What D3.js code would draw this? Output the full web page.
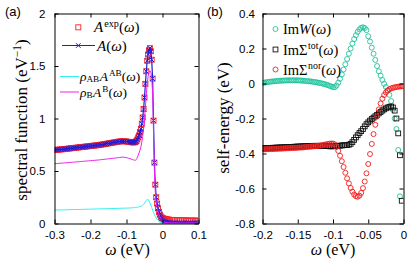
<!DOCTYPE html>
<html>
<head>
<meta charset="utf-8">
<script src="https://cdn.jsdelivr.net/npm/d3@7"></script>
<style>
  body { margin: 0; background: #fff; }
  svg { display: block; }
  .tick text { font-family: "Liberation Sans", Arial, sans-serif; font-size: 11.5px; fill: #000; }
  .tick line, .domain { stroke: #000; stroke-width: 1; }
  .serif { font-family: "Liberation Serif", "DejaVu Serif", serif; fill: #000; }
</style>
</head>
<body>
<script>
// panel (a): spectral function, omega in eV
const omegaA = [
  -0.3, -0.295, -0.29, -0.285, -0.28, -0.275, -0.27, -0.265, -0.26, -0.255,
  -0.25, -0.245, -0.24, -0.235, -0.23, -0.225, -0.22, -0.215, -0.21, -0.205,
  -0.2, -0.195, -0.19, -0.185, -0.18, -0.175, -0.17, -0.165, -0.16, -0.155,
  -0.15, -0.145, -0.14, -0.135, -0.13, -0.125, -0.12, -0.115, -0.11, -0.105,
  -0.1, -0.095, -0.09,
  -0.0875, -0.085, -0.0825, -0.08, -0.0775, -0.075, -0.0725, -0.07,
  -0.0675, -0.065, -0.0625, -0.06, -0.0575, -0.055, -0.0525, -0.05,
  -0.0475, -0.045, -0.0425, -0.04, -0.0375, -0.035, -0.0325, -0.03,
  -0.0275, -0.025, -0.0225, -0.02, -0.0175, -0.015, -0.0125, -0.01,
  -0.0075, -0.005, -0.0025, 0, 0.0025, 0.005, 0.0075, 0.01,
  0.0125, 0.015, 0.0175, 0.02,
  0.025, 0.03, 0.035, 0.04, 0.045, 0.05, 0.055, 0.06,
  0.065, 0.07, 0.075, 0.08, 0.085, 0.09, 0.095, 0.1
];
const aExp = [
  0.700, 0.702, 0.703, 0.705, 0.706, 0.708, 0.710, 0.712, 0.714, 0.716,
  0.718, 0.720, 0.722, 0.724, 0.726, 0.728, 0.730, 0.732, 0.734, 0.736,
  0.738, 0.740, 0.742, 0.744, 0.746, 0.749, 0.751, 0.754, 0.757, 0.760,
  0.763, 0.766, 0.769, 0.772, 0.775, 0.778, 0.781, 0.783, 0.784, 0.783,
  0.781, 0.778, 0.776,
  0.775, 0.774, 0.773, 0.773, 0.774, 0.777, 0.785, 0.80,
  0.82, 0.84, 0.87, 0.90, 0.95, 1.01, 1.09, 1.20,
  1.33, 1.45, 1.55, 1.61, 1.65, 1.67, 1.64, 1.56,
  1.38, 0.98, 0.58, 0.37, 0.25, 0.19, 0.145, 0.11,
  0.085, 0.068, 0.058, 0.052, 0.048, 0.045, 0.042, 0.040,
  0.038, 0.037, 0.036, 0.035,
  0.034, 0.033, 0.032, 0.032, 0.031, 0.031, 0.030, 0.030,
  0.029, 0.029, 0.028, 0.028, 0.028, 0.027, 0.027, 0.027
];
const aModel = [
  0.700, 0.702, 0.703, 0.705, 0.706, 0.708, 0.710, 0.712, 0.714, 0.716,
  0.718, 0.720, 0.722, 0.724, 0.726, 0.728, 0.730, 0.732, 0.734, 0.736,
  0.738, 0.740, 0.742, 0.744, 0.746, 0.749, 0.751, 0.754, 0.757, 0.760,
  0.763, 0.766, 0.769, 0.772, 0.775, 0.778, 0.781, 0.783, 0.784, 0.783,
  0.781, 0.778, 0.776,
  0.775, 0.774, 0.773, 0.773, 0.774, 0.777, 0.785, 0.80,
  0.82, 0.84, 0.87, 0.90, 0.95, 1.01, 1.09, 1.20,
  1.33, 1.45, 1.55, 1.61, 1.65, 1.67, 1.64, 1.56,
  1.38, 0.98, 0.58, 0.37, 0.25, 0.19, 0.145, 0.11,
  0.085, 0.062, 0.045, 0.032, 0.022, 0.016, 0.012, 0.010,
  0.009, 0.008, 0.007, 0.007,
  0.006, 0.006, 0.006, 0.006, 0.005, 0.005, 0.005, 0.005,
  0.005, 0.005, 0.005, 0.005, 0.005, 0.005, 0.005, 0.005
];
const rhoAB = [
  0.128, 0.128, 0.129, 0.129, 0.130, 0.130, 0.130, 0.131, 0.131, 0.132,
  0.132, 0.133, 0.133, 0.133, 0.134, 0.134, 0.135, 0.135, 0.136, 0.136,
  0.137, 0.137, 0.138, 0.138, 0.139, 0.139, 0.140, 0.140, 0.141, 0.141,
  0.142, 0.142, 0.143, 0.143, 0.144, 0.144, 0.145, 0.145, 0.146, 0.146,
  0.147, 0.147, 0.148,
  0.149, 0.149, 0.150, 0.151, 0.152, 0.153, 0.154, 0.155,
  0.157, 0.159, 0.161, 0.164, 0.168, 0.174, 0.182, 0.193,
  0.207, 0.221, 0.230, 0.228, 0.215, 0.196, 0.175, 0.152,
  0.128, 0.105, 0.084, 0.066, 0.051, 0.039, 0.029, 0.021,
  0.015, 0.010, 0.006, 0.004, 0.002, 0.001, 0.001, 0,
  0, 0, 0, 0,
  0, 0, 0, 0, 0, 0, 0, 0,
  0, 0, 0, 0, 0, 0, 0, 0
];
const rhoB = [
  0.570, 0.571, 0.572, 0.574, 0.575, 0.576, 0.578, 0.579, 0.580, 0.582,
  0.583, 0.585, 0.586, 0.588, 0.589, 0.591, 0.592, 0.594, 0.595, 0.597,
  0.598, 0.600, 0.601, 0.603, 0.604, 0.606, 0.608, 0.610, 0.612, 0.614,
  0.616, 0.618, 0.620, 0.622, 0.624, 0.626, 0.629, 0.631, 0.632, 0.630,
  0.627, 0.622, 0.617,
  0.614, 0.611, 0.608, 0.605, 0.603, 0.603, 0.610, 0.628,
  0.650, 0.672, 0.700, 0.730, 0.775, 0.830, 0.900, 0.995,
  1.11, 1.23, 1.33, 1.40, 1.44, 1.455, 1.44, 1.39,
  1.24, 0.87, 0.50, 0.30, 0.20, 0.15, 0.115, 0.088,
  0.068, 0.052, 0.040, 0.030, 0.022, 0.016, 0.012, 0.010,
  0.009, 0.008, 0.007, 0.007,
  0.006, 0.006, 0.006, 0.006, 0.005, 0.005, 0.005, 0.005,
  0.005, 0.005, 0.005, 0.005, 0.005, 0.005, 0.005, 0.005
];

// panel (b): self-energy, omega in eV
const omegaB = [
  -0.2, -0.1975, -0.195, -0.1925, -0.19, -0.1875, -0.185, -0.1825, -0.18, -0.1775,
  -0.175, -0.1725, -0.17, -0.1675, -0.165, -0.1625, -0.16, -0.1575, -0.155, -0.1525,
  -0.15, -0.1475, -0.145, -0.1425, -0.14, -0.1375, -0.135, -0.1325, -0.13, -0.1275,
  -0.125, -0.1225, -0.12, -0.1175, -0.115, -0.1125, -0.11, -0.1075, -0.105, -0.1025,
  -0.1, -0.0975, -0.095, -0.0925, -0.09, -0.0875, -0.085, -0.0825, -0.08, -0.0775,
  -0.075, -0.0725, -0.07, -0.0675, -0.065, -0.0625, -0.06, -0.0575, -0.055, -0.0525,
  -0.05, -0.0475, -0.045, -0.0425, -0.04, -0.0375, -0.035, -0.0325, -0.03, -0.0275,
  -0.025, -0.0225, -0.02, -0.0175, -0.015, -0.0125, -0.01, -0.0075, -0.005, -0.0025,
  0
];
const imW = [
  0.003, 0.005, 0.007, 0.008, 0.010, 0.011, 0.012, 0.013, 0.014, 0.015,
  0.016, 0.016, 0.017, 0.017, 0.018, 0.018, 0.018, 0.018, 0.018, 0.018,
  0.018, 0.017, 0.017, 0.016, 0.015, 0.014, 0.013, 0.012, 0.011, 0.009,
  0.008, 0.006, 0.004, 0.002, 0.000, -0.003, -0.006, -0.009, -0.013, -0.017,
  -0.020, -0.021, -0.012, 0.005, 0.027, 0.052, 0.080, 0.110, 0.140, 0.170,
  0.200, 0.228, 0.254, 0.276, 0.295, 0.309, 0.318, 0.321, 0.317, 0.305,
  0.270, 0.240, 0.205, 0.170, 0.135, 0.100, 0.070, 0.045, 0.020, -0.002,
  -0.020, -0.040, -0.065, -0.100, -0.150, -0.200, -0.260, -0.380, -0.645, null,
  null
];
const imSigmaTot = [
  -0.370, -0.370, -0.369, -0.369, -0.368, -0.368, -0.367, -0.367, -0.366, -0.366,
  -0.365, -0.365, -0.364, -0.364, -0.363, -0.363, -0.362, -0.362, -0.361, -0.361,
  -0.360, -0.360, -0.359, -0.359, -0.358, -0.358, -0.357, -0.357, -0.357, -0.356,
  -0.356, -0.356, -0.356, -0.356, -0.357, -0.357, -0.358, -0.358, -0.359, -0.359,
  -0.359, -0.358, -0.357, -0.356, -0.355, -0.354, -0.353, -0.352, -0.352, -0.350,
  -0.345, -0.335, -0.322, -0.308, -0.295, -0.283, -0.272, -0.260, -0.245, -0.232,
  -0.222, -0.212, -0.203, -0.195, -0.187, -0.179, -0.171, -0.163, -0.155, -0.148,
  -0.142, -0.137, -0.133, -0.131, -0.137, -0.155, -0.200, -0.285, -0.410, -0.670,
  null
];
const imSigmaNor = [
  -0.376, -0.376, -0.376, -0.375, -0.375, -0.375, -0.374, -0.374, -0.373, -0.373,
  -0.372, -0.372, -0.371, -0.371, -0.370, -0.370, -0.369, -0.369, -0.368, -0.368,
  -0.367, -0.366, -0.366, -0.365, -0.364, -0.363, -0.362, -0.361, -0.360, -0.359,
  -0.358, -0.357, -0.355, -0.354, -0.352, -0.350, -0.348, -0.346, -0.344, -0.343,
  -0.343, -0.348, -0.362, -0.385, -0.413, -0.444, -0.477, -0.510, -0.542, -0.571,
  -0.597, -0.618, -0.634, -0.644, -0.647, -0.641, -0.625, -0.598, -0.560, -0.513,
  -0.460, -0.403, -0.345, -0.289, -0.236, -0.189, -0.148, -0.114, -0.087, -0.066,
  -0.051, -0.040, -0.033, -0.028, -0.024, -0.022, -0.020, -0.018, -0.017, -0.016,
  -0.015
];

const ticksAx = [-0.3, -0.2, -0.1, 0, 0.1];
const ticksAy = [0, 0.5, 1, 1.5, 2];
const ticksBx = [-0.2, -0.15, -0.1, -0.05, 0];
const ticksBy = [-0.8, -0.6, -0.4, -0.2, 0, 0.2, 0.4];

const width = 415, height = 263;

const svg = d3.select("body").append("svg")
    .attr("width", width)
    .attr("height", height);

// rich text: parts are {t, it, sup, sub, dx}
function richText(g, x, y, size, parts) {
  const text = g.append("text")
      .attr("class", "serif")
      .attr("x", x)
      .attr("y", y)
      .style("font-size", size + "px");
  let shift = 0;
  parts.forEach(p => {
    const target = p.sup ? -0.36 * size : p.sub ? 0.1 * size : 0;
    text.append("tspan")
        .attr("dy", target - shift)
        .attr("dx", p.dx || 0)
        .style("font-style", p.it ? "italic" : "normal")
        .style("font-size", (p.sup || p.sub ? 0.68 * size : size) + "px")
        .text(p.t);
    shift = target;
  });
  return text;
}

function frame(g, x, y, tx, ty, padY) {
  const [x0, x1] = x.range(), [y0, y1] = y.range();
  g.append("g")
      .attr("transform", `translate(0,${y0})`)
      .call(d3.axisBottom(x).tickValues(tx).tickSize(-4).tickSizeOuter(0).tickPadding(7.5).tickFormat(String));
  g.append("g")
      .attr("transform", `translate(0,${y1})`)
      .call(d3.axisTop(x).tickValues(tx).tickSize(-4).tickSizeOuter(0).tickFormat(""));
  g.append("g")
      .attr("transform", `translate(${x0},0)`)
      .call(d3.axisLeft(y).tickValues(ty).tickSize(-4).tickSizeOuter(0).tickPadding(padY).tickFormat(String));
  g.append("g")
      .attr("transform", `translate(${x1},0)`)
      .call(d3.axisRight(y).tickValues(ty).tickSize(-4).tickSizeOuter(0).tickFormat(""));
}

// ---------- panel (a)
const xa = d3.scaleLinear().domain([-0.3, 0.1]).range([54.5, 198.5]);
const ya = d3.scaleLinear().domain([0, 2]).range([223.5, 13.5]);
const ga = svg.append("g");

svg.append("clipPath").attr("id", "clipA")
  .append("rect").attr("x", 54.5).attr("y", 13.5).attr("width", 144).attr("height", 210);
const pa = ga.append("g").attr("clip-path", "url(#clipA)");

const ptsA = omegaA.map((w, i) => ({w, exp: aExp[i], mod: aModel[i], ab: rhoAB[i], b: rhoB[i]}));

pa.append("g").selectAll("rect")
  .data(ptsA)
  .join("rect")
    .attr("x", d => xa(d.w) - 2.5)
    .attr("y", d => ya(d.exp) - 2.5)
    .attr("width", 5)
    .attr("height", 5)
    .attr("fill", "none")
    .attr("stroke", "#f22")
    .attr("stroke-width", 0.9);

const lineA = key => d3.line().x(d => xa(d.w)).y(d => ya(d[key]));

pa.append("path")
    .datum(ptsA)
    .attr("d", lineA("mod"))
    .attr("fill", "none")
    .attr("stroke", "#1a1ae0")
    .attr("stroke-width", 1.2);

pa.append("g").selectAll("path")
  .data(ptsA)
  .join("path")
    .attr("d", d => {
      const cx = xa(d.w), cy = ya(d.mod);
      return `M${cx - 2.3},${cy - 2.3}L${cx + 2.3},${cy + 2.3}M${cx - 2.3},${cy + 2.3}L${cx + 2.3},${cy - 2.3}`;
    })
    .attr("stroke", "#1a1ae0")
    .attr("stroke-width", 1);

pa.append("path")
    .datum(ptsA)
    .attr("d", lineA("ab"))
    .attr("fill", "none")
    .attr("stroke", "#2ef0f0")
    .attr("stroke-width", 1);

pa.append("path")
    .datum(ptsA)
    .attr("d", lineA("b"))
    .attr("fill", "none")
    .attr("stroke", "#f020f0")
    .attr("stroke-width", 1);

frame(ga, xa, ya, ticksAx, ticksAy, 9);

// legend (a)
ga.append("rect").attr("x", 75.8).attr("y", 24.8).attr("width", 5).attr("height", 5)
    .attr("fill", "none").attr("stroke", "#f22").attr("stroke-width", 0.9);
richText(ga, 94, 32, 15, [{t: "A", it: true}, {t: "exp", sup: true, dx: 1}, {t: "("}, {t: "ω", it: true}, {t: ")"}]);

ga.append("line").attr("x1", 62).attr("x2", 95).attr("y1", 45.5).attr("y2", 45.5)
    .attr("stroke", "#1a1ae0").attr("stroke-width", 1.2);
ga.append("path").attr("d", "M76,43.2L80.6,47.8M76,47.8L80.6,43.2").attr("stroke", "#1a1ae0");
richText(ga, 97, 50.5, 15, [{t: "A", it: true}, {t: "("}, {t: "ω", it: true}, {t: ")"}]);

ga.append("line").attr("x1", 60).attr("x2", 79).attr("y1", 76.5).attr("y2", 76.5)
    .attr("stroke", "#2ef0f0");
richText(ga, 80, 81, 13.5, [{t: "ρ", it: true}, {t: "AB", sub: true}, {t: "A", it: true, dx: 0.5}, {t: "AB", sup: true, dx: 1}, {t: "("}, {t: "ω", it: true}, {t: ")"}]);

ga.append("line").attr("x1", 60).attr("x2", 79).attr("y1", 92).attr("y2", 92)
    .attr("stroke", "#f020f0");
richText(ga, 80, 97, 13.5, [{t: "ρ", it: true}, {t: "B", sub: true}, {t: "A", it: true, dx: 0.5}, {t: "B", sup: true, dx: 1}, {t: "("}, {t: "ω", it: true}, {t: ")"}]);

// titles (a)
ga.append("text")
    .attr("x", 5).attr("y", 16)
    .style("font-family", "Liberation Sans, Arial, sans-serif").style("font-size", "13px")
    .text("(a)");
richText(ga, 127.5, 254.5, 16, [{t: "ω", it: true}, {t: " (eV)"}]).attr("text-anchor", "middle");
richText(ga, 0, 0, 17, [{t: "spectral function (eV"}, {t: "−1", sup: true}, {t: ")"}])
    .attr("text-anchor", "middle")
    .attr("transform", "translate(27,120) rotate(-90)");

// ---------- panel (b)
const xb = d3.scaleLinear().domain([-0.2, 0]).range([262.5, 403.5]);
const yb = d3.scaleLinear().domain([-0.8, 0.4]).range([223.5, 13.5]);
const gb = svg.append("g");

svg.append("clipPath").attr("id", "clipB")
  .append("rect").attr("x", 262.5).attr("y", 13.5).attr("width", 141).attr("height", 210);
const pb = gb.append("g").attr("clip-path", "url(#clipB)");

const seriesB = [
  {vals: imW, color: "#1ec39c", shape: "circle"},
  {vals: imSigmaTot, color: "#111", shape: "square"},
  {vals: imSigmaNor, color: "#f21c1c", shape: "circle"}
];

function marker(g, shape, cx, cy, color) {
  if (shape === "circle") {
    g.append("circle").attr("cx", cx).attr("cy", cy).attr("r", 2.5)
        .attr("fill", "none").attr("stroke", color).attr("stroke-width", 0.9);
  } else {
    g.append("rect").attr("x", cx - 2.4).attr("y", cy - 2.4).attr("width", 4.8).attr("height", 4.8)
        .attr("fill", "none").attr("stroke", color).attr("stroke-width", 0.9);
  }
}

seriesB.forEach(s => {
  const g = pb.append("g");
  omegaB.forEach((w, i) => {
    if (s.vals[i] == null) return;
    marker(g, s.shape, xb(w), yb(s.vals[i]), s.color);
  });
});

frame(gb, xb, yb, ticksBx, ticksBy, 7.5);

// legend (b)
marker(gb, "circle", 275.5, 29, "#1ec39c");
richText(gb, 283, 34, 14.5, [{t: "Im"}, {t: "W", it: true}, {t: "("}, {t: "ω", it: true}, {t: ")"}]);
marker(gb, "square", 275.5, 49.5, "#111");
richText(gb, 283, 54.5, 14.5, [{t: "ImΣ"}, {t: "tot", sup: true, dx: 0.5}, {t: "("}, {t: "ω", it: true}, {t: ")"}]);
marker(gb, "circle", 275.5, 69.5, "#f21c1c");
richText(gb, 283, 74.5, 14.5, [{t: "ImΣ"}, {t: "nor", sup: true, dx: 0.5}, {t: "("}, {t: "ω", it: true}, {t: ")"}]);

// titles (b)
gb.append("text")
    .attr("x", 207).attr("y", 16)
    .style("font-family", "Liberation Sans, Arial, sans-serif").style("font-size", "13px")
    .text("(b)");
richText(gb, 333, 254.5, 16, [{t: "ω", it: true}, {t: " (eV)"}]).attr("text-anchor", "middle");
richText(gb, 0, 0, 17, [{t: "self-energy (eV)"}])
    .attr("text-anchor", "middle")
    .attr("transform", "translate(229,118) rotate(-90)");
</script>
</body>
</html>
